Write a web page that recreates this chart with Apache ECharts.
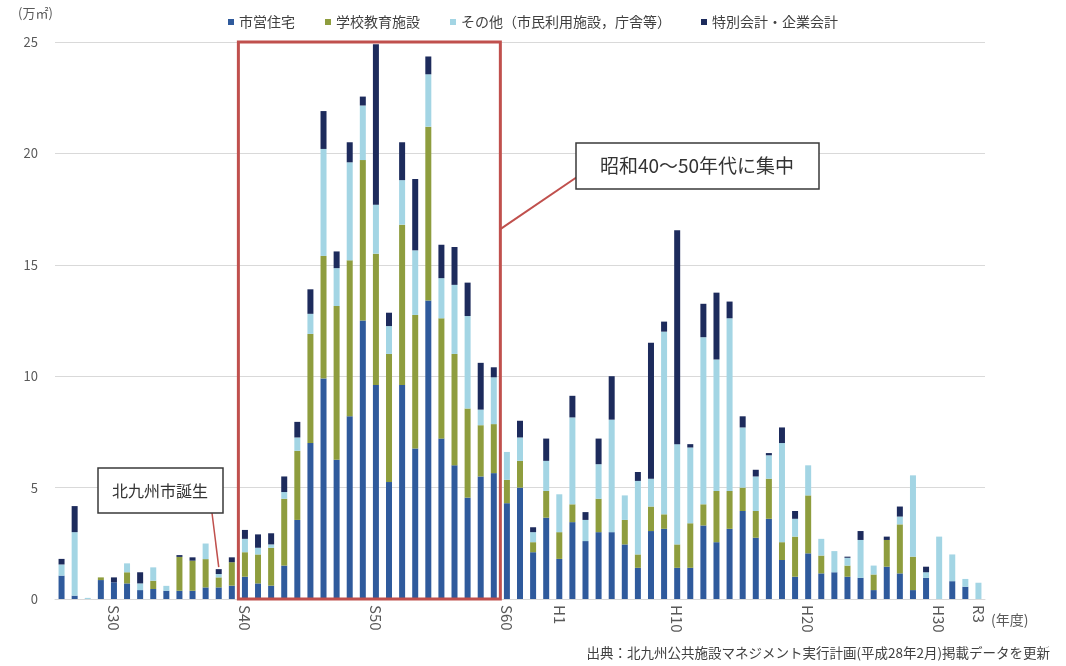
<!DOCTYPE html>
<html>
<head>
<meta charset="utf-8">
<script src="https://cdn.jsdelivr.net/npm/echarts@6/dist/echarts.min.js"></script>
<style>
html, body { margin: 0; background: #fff; }
#main { width: 1066px; height: 666px; }
</style>
</head>
<body>
<div id="main"></div>
<script>
// 年度（昭和26年度～令和3年度）
var years = [
  'S26','S27','S28','S29','S30','S31','S32','S33','S34','S35',
  'S36','S37','S38','S39','S40','S41','S42','S43','S44','S45',
  'S46','S47','S48','S49','S50','S51','S52','S53','S54','S55',
  'S56','S57','S58','S59','S60','S61','S62','S63','H1','H2',
  'H3','H4','H5','H6','H7','H8','H9','H10','H11','H12',
  'H13','H14','H15','H16','H17','H18','H19','H20','H21','H22',
  'H23','H24','H25','H26','H27','H28','H29','H30','R1','R2','R3'
];
var shownLabels = ['S30','S40','S50','S60','H1','H10','H20','H30','R3'];

// 万㎡
var housing = [
  1.05, 0.15, 0, 0.85, 0.75, 0.7, 0.4, 0.45, 0.37, 0.37,
  0.37, 0.52, 0.52, 0.6, 1.0, 0.7, 0.6, 1.5, 3.55, 7.0,
  9.9, 6.25, 8.2, 12.5, 9.6, 5.25, 9.6, 6.75, 13.4, 7.2,
  6.0, 4.55, 5.5, 5.65, 4.3, 5.0, 2.1, 3.65, 1.8, 3.45,
  2.6, 3.0, 3.0, 2.45, 1.4, 3.05, 3.15, 1.4, 1.4, 3.3,
  2.55, 3.15, 3.95, 2.75, 3.6, 1.75, 1.0, 2.05, 1.15, 1.2,
  1.0, 0.95, 0.4, 1.45, 1.15, 0.4, 0.95, 0, 0.8, 0.55, 0
];
var school = [
  0, 0, 0, 0.12, 0, 0.5, 0, 0.37, 0, 1.52,
  1.35, 1.27, 0.45, 1.05, 1.1, 1.3, 1.7, 3.0, 3.1, 4.9,
  5.5, 6.9, 7.0, 7.2, 5.9, 5.75, 7.2, 6.0, 7.8, 5.4,
  5.0, 4.0, 2.3, 2.2, 1.05, 1.2, 0.45, 1.2, 1.2, 0.8,
  0, 1.5, 0, 1.1, 0.6, 1.1, 0.65, 1.05, 2.0, 0.95,
  2.3, 1.7, 1.05, 1.2, 1.8, 0.8, 1.8, 2.6, 0.8, 0,
  0.5, 0, 0.7, 1.2, 2.2, 1.5, 0, 0, 0, 0, 0
];
var others = [
  0.5, 2.85, 0.05, 0, 0, 0.4, 0.3, 0.6, 0.22, 0,
  0, 0.7, 0.15, 0, 0.6, 0.3, 0.15, 0.3, 0.6, 0.9,
  4.8, 1.7, 4.4, 2.45, 2.2, 1.25, 2.0, 2.9, 2.35, 1.8,
  3.1, 4.15, 0.7, 2.1, 1.25, 1.05, 0.45, 1.35, 1.7, 3.9,
  0.95, 1.55, 5.05, 1.1, 3.3, 1.25, 8.2, 4.5, 3.4, 7.5,
  5.9, 7.75, 2.7, 1.55, 1.05, 4.45, 0.8, 1.35, 0.75, 0.95,
  0.35, 1.7, 0.4, 0, 0.35, 3.65, 0.25, 2.8, 1.2, 0.35, 0.73
];
var special = [
  0.25, 1.17, 0, 0, 0.22, 0, 0.5, 0, 0, 0.08,
  0.15, 0, 0.22, 0.22, 0.4, 0.6, 0.5, 0.7, 0.7, 1.1,
  1.7, 0.75, 0.9, 0.4, 7.2, 0.6, 1.7, 3.2, 0.8, 1.5,
  1.7, 1.5, 2.1, 0.45, 0, 0.75, 0.22, 1.0, 0, 0.97,
  0.35, 1.15, 1.95, 0, 0.4, 6.1, 0.45, 9.6, 0.15, 1.5,
  3.0, 0.75, 0.5, 0.3, 0.1, 0.7, 0.35, 0, 0, 0,
  0.05, 0.4, 0, 0.15, 0.45, 0, 0.25, 0, 0, 0, 0
];

var font = '"Noto Sans CJK JP", "Noto Sans", sans-serif';
var red = '#c0504d';

var chart = echarts.init(document.getElementById('main'));

function bar(name, data, color) {
  return {
    name: name,
    type: 'bar',
    stack: 'total',
    barWidth: 6,
    data: data,
    itemStyle: { color: color }
  };
}

var option = {
  animation: false,
  textStyle: { fontFamily: font },
  legend: {
    top: 10,
    left: 'center',
    itemWidth: 6,
    itemHeight: 6,
    itemGap: 30,
    icon: 'rect',
    textStyle: { fontSize: 14, color: '#404040', fontFamily: font }
  },
  grid: { left: 55, right: 81, top: 42, bottom: 67 },
  xAxis: {
    type: 'category',
    data: years,
    axisLine: { lineStyle: { color: '#d9d9d9' } },
    axisTick: { show: false },
    axisLabel: {
      rotate: -90,
      margin: 6,
      fontSize: 15,
      color: '#595959',
      interval: function (i, v) { return shownLabels.indexOf(v) >= 0; }
    }
  },
  yAxis: {
    type: 'value',
    min: 0,
    max: 25,
    interval: 5,
    axisLabel: { fontSize: 13, color: '#595959', margin: 17 },
    splitLine: { lineStyle: { color: '#d9d9d9' } }
  },
  series: [
    bar('市営住宅', housing, '#2f5a9c'),
    bar('学校教育施設', school, '#8e9d3e'),
    bar('その他（市民利用施設，庁舎等）', others, '#a3d5e4'),
    bar('特別会計・企業会計', special, '#1d2b5c')
  ]
};
chart.setOption(option);

// 注記（位置は軸から計算）
var px = function (c) { return chart.convertToPixel({ xAxisIndex: 0 }, c); };
var py = function (v) { return chart.convertToPixel({ yAxisIndex: 0 }, v); };
var band = px('S41') - px('S40');
var x0 = px('S40') - band / 2;
var x1 = px('S59') + band / 2;
var yTop = py(25), yBot = py(0);
var s38 = years.indexOf('S38');
var s38Top = housing[s38] + school[s38] + others[s38] + special[s38];

chart.setOption({
  graphic: [
    { type: 'text', left: 18, top: 7, style: { text: '(万㎡)', fill: '#595959', font: '13px ' + font } },
    { type: 'text', left: 991, top: 613, style: { text: '(年度)', fill: '#595959', font: '14px ' + font } },
    {
      type: 'rect', z: 10,
      shape: { x: x0, y: yTop, width: x1 - x0, height: yBot - yTop },
      style: { fill: 'none', stroke: red, lineWidth: 3 }
    },
    {
      type: 'line', z: 10,
      shape: { x1: x1, y1: py(16.6), x2: 577, y2: 177 },
      style: { stroke: red, lineWidth: 2 }
    },
    {
      type: 'rect', z: 11,
      shape: { x: 576, y: 143, width: 243, height: 46 },
      style: { fill: '#fff', stroke: '#3a3a3a', lineWidth: 1.5 }
    },
    {
      type: 'text', z: 12, x: 697, y: 166,
      style: { text: '昭和40～50年代に集中', font: '19px ' + font, fill: '#333', align: 'center', verticalAlign: 'middle' }
    },
    {
      type: 'line', z: 10,
      shape: { x1: 212, y1: 513, x2: px('S38'), y2: py(s38Top) - 2 },
      style: { stroke: red, lineWidth: 1.5 }
    },
    {
      type: 'rect', z: 11,
      shape: { x: 98, y: 468, width: 125, height: 45 },
      style: { fill: '#fff', stroke: '#3a3a3a', lineWidth: 1.5 }
    },
    {
      type: 'text', z: 12, x: 160, y: 491,
      style: { text: '北九州市誕生', font: '16px ' + font, fill: '#333', align: 'center', verticalAlign: 'middle' }
    },
    {
      type: 'text', right: 16, top: 646,
      style: { text: '出典：北九州公共施設マネジメント実行計画(平成28年2月)掲載データを更新', font: '13.5px ' + font, fill: '#404040' }
    }
  ]
});
</script>
</body>
</html>
